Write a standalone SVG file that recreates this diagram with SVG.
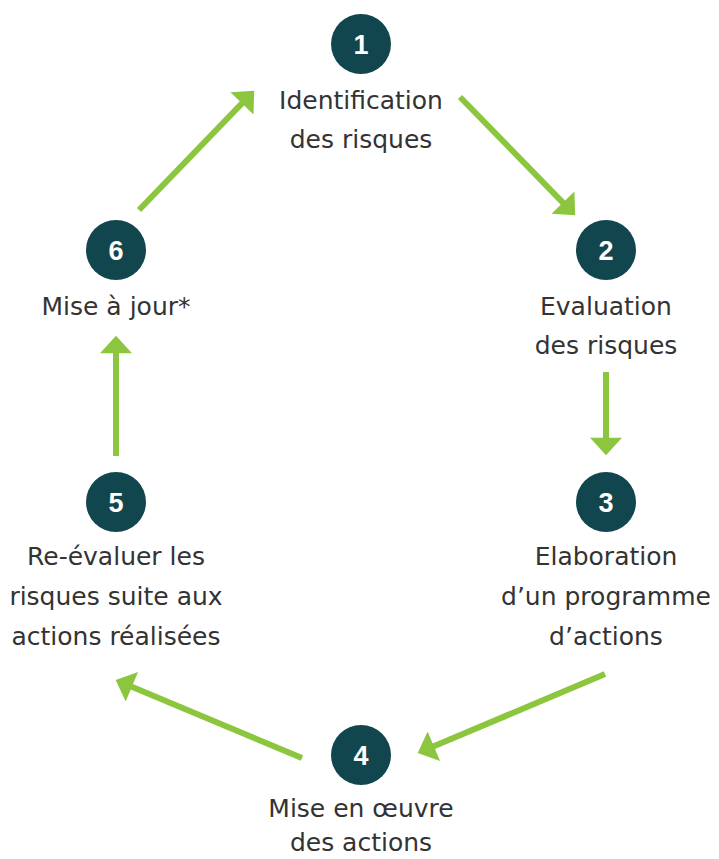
<svg xmlns="http://www.w3.org/2000/svg" width="719" height="859" viewBox="0 0 719 859">
  <style>
    .badge { fill: #12464F; }
    .num { font-family: "Liberation Sans", Arial, sans-serif; font-weight: bold; font-size: 27px; fill: #ffffff; text-anchor: middle; }
    .lbl { font-family: "DejaVu Sans", "Liberation Sans", sans-serif; font-size: 25px; fill: #333333; text-anchor: middle; }
    .arrow { stroke: #8CC63F; stroke-width: 6; fill: none; marker-end: url(#head); }
  </style>
  <defs>
    <marker id="head" markerUnits="userSpaceOnUse" markerWidth="20" markerHeight="32" viewBox="0 0 17 31" refX="7" refY="15.5" orient="auto">
      <path d="M0,0 L17,15.5 L0,31 Z" fill="#8CC63F"/>
    </marker>
  </defs>
  <rect width="719" height="859" fill="#ffffff"/>

  <g id="connectors">
    <line class="arrow" x1="460" y1="97" x2="568" y2="207.8"/>
    <line class="arrow" x1="606" y1="372" x2="606" y2="445"/>
    <line class="arrow" x1="605" y1="674" x2="427.2" y2="749.1"/>
    <line class="arrow" x1="302" y1="758" x2="125.2" y2="683.9"/>
    <line class="arrow" x1="116" y1="456" x2="116" y2="346"/>
    <line class="arrow" x1="139" y1="210" x2="247" y2="98.2"/>
  </g>

  <g id="node1">
    <circle class="badge" cx="361" cy="44" r="30"/>
    <text class="num" x="361" y="54">1</text>
    <text class="lbl" x="361" y="109">Identification</text>
    <text class="lbl" x="361" y="148">des risques</text>
  </g>
  <g id="node2">
    <circle class="badge" cx="606" cy="250" r="30"/>
    <text class="num" x="606" y="260">2</text>
    <text class="lbl" x="606" y="315">Evaluation</text>
    <text class="lbl" x="606" y="354">des risques</text>
  </g>
  <g id="node3">
    <circle class="badge" cx="606" cy="502" r="30"/>
    <text class="num" x="606" y="512">3</text>
    <text class="lbl" x="606" y="565">Elaboration</text>
    <text class="lbl" x="606" y="605">d’un programme</text>
    <text class="lbl" x="606" y="645">d’actions</text>
  </g>
  <g id="node4">
    <circle class="badge" cx="361" cy="755" r="30"/>
    <text class="num" x="361" y="765">4</text>
    <text class="lbl" x="361" y="817">Mise en œuvre</text>
    <text class="lbl" x="361" y="851">des actions</text>
  </g>
  <g id="node5">
    <circle class="badge" cx="116" cy="502" r="30"/>
    <text class="num" x="116" y="512">5</text>
    <text class="lbl" x="116" y="565">Re-évaluer les</text>
    <text class="lbl" x="116" y="605">risques suite aux</text>
    <text class="lbl" x="116" y="645">actions réalisées</text>
  </g>
  <g id="node6">
    <circle class="badge" cx="116" cy="250" r="30"/>
    <text class="num" x="116" y="260">6</text>
    <text class="lbl" x="116" y="315">Mise à jour*</text>
  </g>
</svg>
